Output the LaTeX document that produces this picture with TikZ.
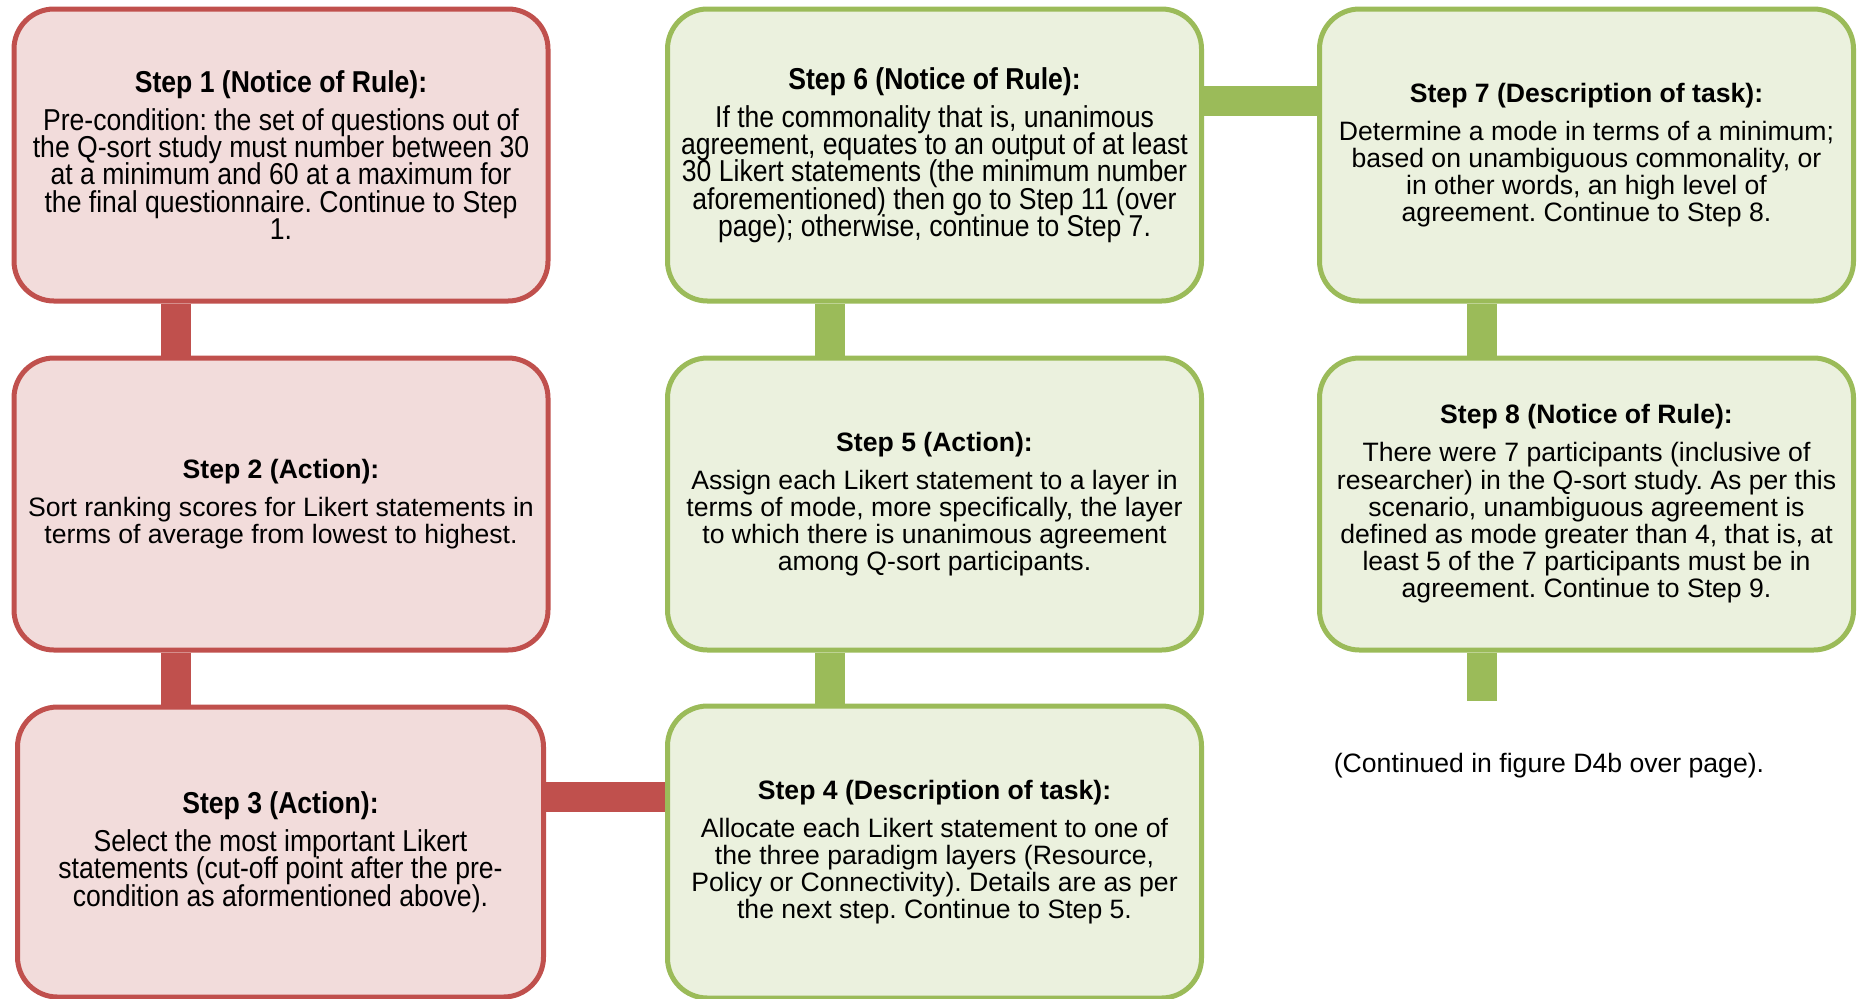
\documentclass[tikz,border=0pt]{standalone}
\usepackage{fontspec}
\setmainfont{Liberation Sans}
\newfontfamily\narrowsans{Liberation Sans}[FakeStretch=0.88]
\usepackage{xcolor}
\usepackage{tikz}
\usetikzlibrary{
  positioning,
  backgrounds,
  calc
}
\definecolor{LayerRed}{HTML}{F2DCDB}
\definecolor{LayerGreen}{HTML}{EBF1DE}
\definecolor{DarkRed}{HTML}{C0504D}
\definecolor{DarkGreen}{HTML}{9BBB59}
\frenchspacing
\newcommand{\stepfont}{\fontsize{13.3}{13.6}\selectfont}
\newcommand{\tallstepfont}{\narrowsans\fontsize{15.1}{13.6}\selectfont\lineskiplimit=-20pt}
\tikzset{
  box/.style={
    draw,
    rounded corners=20pt,
    line width=2.5pt,
    align=center,
    inner sep=0pt,
    minimum width=267pt,
    minimum height=146pt,
    font=\stepfont
  },
  redstep/.style={
    box,
    fill=LayerRed,
    draw=DarkRed
  },
  greenstep/.style={
    box,
    fill=LayerGreen,
    draw=DarkGreen
  },
  tall/.style={
    font=\tallstepfont
  },
  redlink/.style={
    line width=15pt,
    draw=DarkRed
  },
  greenlink/.style={
    line width=15pt,
    draw=DarkGreen
  }
}

\begin{document}
\begin{tikzpicture}[x=0.5pt,y=-0.5pt]

  \useasboundingbox (0,0) rectangle (1857,998);

  % left column
  \node[
    redstep,
    tall
  ] at (281,155) (step1) {
    \textbf{Step 1 (Notice of Rule):}\\[5.4pt]
    Pre-condition: the set of questions out of\\
    the Q-sort study must number between 30\\
    at a minimum and 60 at a maximum for\\
    the final questionnaire. Continue to Step\\
    1.
  };

  \node[
    redstep
  ] at (281,504) (step2) {
    \textbf{Step 2 (Action):}\\[5.4pt]
    Sort ranking scores for Likert statements in\\
    terms of average from lowest to highest.
  };

  \node[
    redstep,
    tall,
    minimum width=263pt,
    minimum height=145pt
  ] at (280.5,852) (step3) {
    \textbf{Step 3 (Action):}\\[5.4pt]
    Select the most important Likert\\
    statements (cut-off point after the pre-\\
    condition as aformentioned above).
  };

  % middle column
  \node[
    greenstep
  ] at (934.5,852) (step4) {
    \textbf{Step 4 (Description of task):}\\[5.4pt]
    Allocate each Likert statement to one of\\
    the three paradigm layers (Resource,\\
    Policy or Connectivity). Details are as per\\
    the next step. Continue to Step 5.
  };

  \node[
    greenstep
  ] at (934.5,504) (step5) {
    \textbf{Step 5 (Action):}\\[5.4pt]
    Assign each Likert statement to a layer in\\
    terms of mode, more specifically, the layer\\
    to which there is unanimous agreement\\
    among Q-sort participants.
  };

  \node[
    greenstep,
    tall
  ] at (934.5,155) (step6) {
    \textbf{Step 6 (Notice of Rule):}\\[5.4pt]
    If the commonality that is, unanimous\\
    agreement, equates to an output of at least\\
    30 Likert statements (the minimum number\\
    aforementioned) then go to Step 11 (over\\
    page); otherwise, continue to Step 7.
  };

  % right column
  \node[
    greenstep
  ] at (1586.5,155) (step7) {
    \textbf{Step 7 (Description of task):}\\[5.4pt]
    Determine a mode in terms of a minimum;\\
    based on unambiguous commonality, or\\
    in other words, an high level of\\
    agreement. Continue to Step 8.
  };

  \node[
    greenstep
  ] at (1586.5,504) (step8) {
    \textbf{Step 8 (Notice of Rule):}\\[5.4pt]
    There were 7 participants (inclusive of\\
    researcher) in the Q-sort study. As per this\\
    scenario, unambiguous agreement is\\
    defined as mode greater than 4, that is, at\\
    least 5 of the 7 participants must be in\\
    agreement. Continue to Step 9.
  };

  \coordinate (stubend) at ([xshift=-52.5pt]step8.south |- 0,701);

  \node[
    font=\stepfont
  ] at (1549,766) (contnote) {
    (Continued in figure D4b over page).
  };

  % links behind the boxes
  \begin{scope}[on background layer]
    \draw[redlink]
    ([xshift=-52.5pt]step1.south) --
    ([xshift=-52.5pt]step2.north);

    \draw[redlink]
    ([xshift=-52.5pt]step2.south) --
    ([xshift=-52.5pt]step2.south |- step3.north);

    \draw[redlink]
    ([yshift=27.5pt]step3.east) --
    ([yshift=27.5pt]step3.east -| step4.west);

    \draw[greenlink]
    ([xshift=-52.5pt]step4.north) --
    ([xshift=-52.5pt]step5.south);

    \draw[greenlink]
    ([xshift=-52.5pt]step5.north) --
    ([xshift=-52.5pt]step6.south);

    \draw[greenlink]
    ([yshift=27pt]step6.east) --
    ([yshift=27pt]step7.west);

    \draw[greenlink]
    ([xshift=-52.5pt]step7.south) --
    ([xshift=-52.5pt]step8.north);

    \draw[greenlink]
    ([xshift=-52.5pt]step8.south) --
    (stubend);
  \end{scope}

\end{tikzpicture}
\end{document}
